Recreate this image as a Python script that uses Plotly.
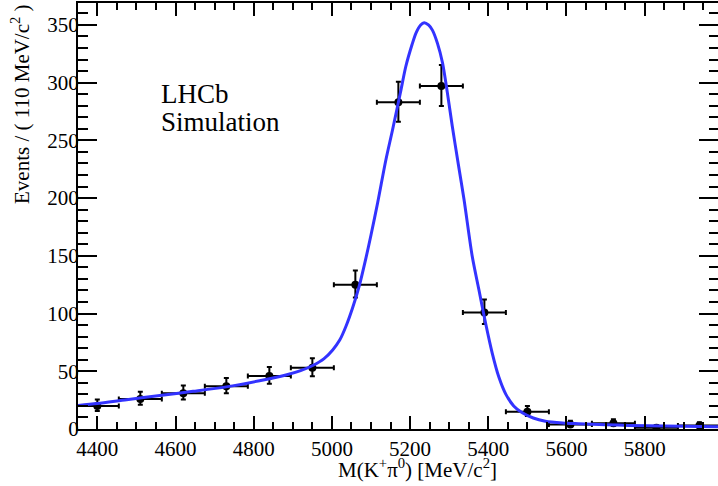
import plotly.graph_objects as go

# ---- data ----
bin_centers = [4400, 4510, 4620, 4730, 4840, 4950, 5060, 5170, 5280, 5390, 5500, 5610, 5720, 5830, 5940]
counts      = [20, 26, 31, 37, 46, 53, 125, 283, 297, 101, 15, 4, 5, 1, 3]
err_lo      = [4.4, 5.1, 5.5, 6.1, 6.8, 7.3, 11.2, 16.8, 17.2, 10.0, 3.8, 1.9, 2.2, 0.8, 1.6]
err_hi      = [5.5, 6.2, 6.6, 7.1, 7.8, 8.3, 12.2, 17.8, 18.2, 11.1, 4.9, 3.2, 3.4, 2.3, 2.9]
half_bin    = [55] * 15

fit_x = [4349, 4400, 4475, 4560, 4645, 4730, 4815, 4880, 4920, 4951, 4980, 5002, 5020, 5036,
         5053, 5070, 5087, 5100, 5117, 5138, 5155, 5175, 5189, 5205, 5215, 5227, 5236, 5247,
         5257, 5270, 5283, 5295, 5308, 5323, 5338, 5359, 5376, 5393, 5410, 5427, 5445, 5465,
         5487, 5515, 5546, 5590, 5631, 5700, 5759, 5850, 5988]
fit_y = [20.4, 22.0, 25.4, 29.0, 32.6, 36.5, 41.8, 46.5, 50.5, 55.0, 61.0, 68.5, 77.0, 89.0,
         105.0, 124.0, 148.0, 168.0, 196.0, 233.0, 259.0, 291.0, 314.0, 333.0, 343.0, 350.0, 352.0, 350.0,
         345.5, 334.0, 317.0, 292.0, 262.0, 230.0, 198.5, 149.4, 120.6, 91.8, 65.8, 45.0, 30.0, 20.0,
         14.0, 9.5, 6.8, 5.3, 4.6, 3.7, 3.1, 2.5, 2.0]

x_range = [4350.6, 5987.5]
y_range = [0, 369]

FONT = "Liberation Serif, Times New Roman, serif"

fig = go.Figure()

fig.add_trace(go.Scatter(
    x=bin_centers, y=counts, mode="markers",
    marker=dict(color="black", size=8, symbol="circle"),
    error_x=dict(type="data", array=half_bin, color="black", thickness=2, width=2.5),
    error_y=dict(type="data", symmetric=False, array=err_hi, arrayminus=err_lo,
                 color="black", thickness=2, width=2.5),
    showlegend=False, cliponaxis=True,
))

fig.add_trace(go.Scatter(
    x=fit_x, y=fit_y, mode="lines",
    line=dict(color="rgb(51,51,255)", width=3, shape="spline", smoothing=0.8),
    showlegend=False,
))

axis_common = dict(
    showline=True, linecolor="black", linewidth=2, mirror="ticks",
    ticks="inside", tickcolor="black", tickwidth=1.5,
    showgrid=False, zeroline=False, automargin=False,
    tickfont=dict(family=FONT, size=21, color="black"),
)

fig.update_xaxes(
    range=x_range, dtick=200, tick0=4400, ticklen=13,
    minor=dict(ticks="inside", dtick=50, tick0=4400, ticklen=7, tickcolor="black", tickwidth=1.5),
    **axis_common,
)
fig.update_yaxes(
    range=y_range, dtick=50, tick0=0, ticklen=19, ticklabelstandoff=-7,
    minor=dict(ticks="inside", dtick=10, ticklen=9.5, tickcolor="black", tickwidth=1.5),
    **axis_common,
)

L, R, T, B = 78, 0, 3, 57
W, H = 718, 486
pw, ph = W - L - R, H - T - B

def px(x):
    return (x - L) / pw

def py(y):
    return (H - B - y) / ph

annotations = [
    dict(text="LHCb", x=px(159), y=py(77), xanchor="left", yanchor="top",
         font=dict(family=FONT, size=27, color="black")),
    dict(text="Simulation", x=px(159), y=py(105.5), xanchor="left", yanchor="top",
         font=dict(family=FONT, size=27, color="black")),
    dict(text="M(K<sup>+</sup>π<sup>0</sup>) [MeV/c<sup>2</sup>]", x=px(417.5), y=py(468),
         xanchor="center", yanchor="middle", font=dict(family=FONT, size=21, color="black")),
    dict(text="Events / ( 110 MeV/c<sup>2</sup> )", x=px(21), y=py(104), textangle=-90,
         xanchor="center", yanchor="middle", font=dict(family=FONT, size=21, color="black")),
]
for a in annotations:
    a.update(xref="paper", yref="paper", showarrow=False)

fig.update_layout(
    width=W, height=H,
    margin=dict(l=L, r=R, t=T, b=B, pad=0, autoexpand=False),
    paper_bgcolor="white", plot_bgcolor="white",
    annotations=annotations,
    font=dict(family=FONT, color="black"),
)

fig.write_html(
    "out.html",
    config={"displayModeBar": False},
    post_script="document.body.style.margin='0';document.body.style.padding='0';"
                "document.body.style.overflow='hidden';",
)
